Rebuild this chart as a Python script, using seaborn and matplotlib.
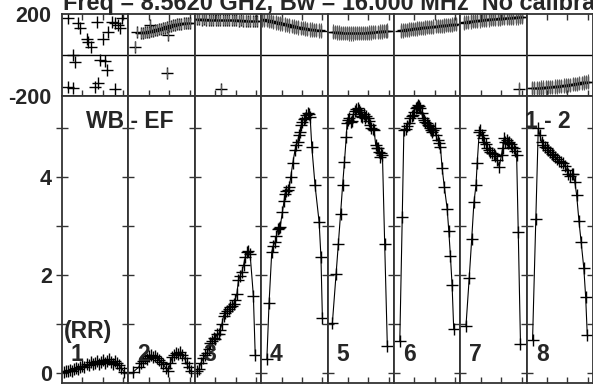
import matplotlib
matplotlib.use('Agg')
import matplotlib.pyplot as plt
import numpy as np
import seaborn as sns

# baselines (una columna por baseline)
bases = ['1', '2', '3', '4', '5', '6', '7', '8']

# amplitud (panel inferior), tiempo dentro de cada baseline
amp_t = [
    [0.10, 0.20, 0.30, 0.40, 0.50, 0.60, 0.70, 0.80, 0.90, 1.00, 1.10, 1.20, 1.30, 1.40, 1.50,
     1.60, 1.70, 1.80, 1.90, 2.00, 2.10, 2.20, 2.30, 2.40, 2.50, 2.60, 2.70, 2.80, 2.90, 3.05],
    [0.25, 0.50, 0.60, 0.70, 0.80, 0.90, 1.00, 1.10, 1.20, 1.30, 1.40, 1.50, 1.60, 1.70, 1.85,
     1.95, 2.05, 2.15, 2.25, 2.35, 2.45, 2.55, 2.65, 2.75, 2.85, 2.95, 3.05],
    [0.10, 0.19, 0.30, 0.42, 0.52, 0.60, 0.68, 0.76, 0.84, 0.92, 1.00, 1.09, 1.17, 1.25, 1.33,
     1.41, 1.49, 1.57, 1.66, 1.74, 1.82, 1.90, 1.98, 2.06, 2.14, 2.22, 2.30, 2.39, 2.47, 2.55,
     2.63, 2.71, 2.87, 2.96],
    [0.28, 0.39, 0.52, 0.60, 0.68, 0.75, 0.82, 0.88, 0.93, 1.04, 1.12, 1.17, 1.24, 1.30, 1.38,
     1.45, 1.55, 1.66, 1.73, 1.79, 1.85, 1.91, 1.97, 2.02, 2.08, 2.15, 2.22, 2.28, 2.34, 2.40,
     2.48, 2.64, 2.84, 2.93, 3.00],
    [0.24, 0.42, 0.53, 0.64, 0.74, 0.83, 0.92, 0.96, 1.01, 1.07, 1.14, 1.20, 1.27, 1.34, 1.40,
     1.47, 1.52, 1.58, 1.64, 1.71, 1.77, 1.83, 1.90, 1.96, 2.02, 2.09, 2.15, 2.22, 2.28, 2.36,
     2.42, 2.48, 2.53, 2.58, 2.64, 2.69, 2.80, 2.93],
    [0.29, 0.41, 0.49, 0.57, 0.65, 0.73, 0.81, 0.88, 0.94, 1.00, 1.06, 1.12, 1.17, 1.23, 1.30,
     1.36, 1.42, 1.47, 1.53, 1.60, 1.66, 1.71, 1.78, 1.84, 1.87, 1.93, 1.99, 2.06, 2.14, 2.22,
     2.28, 2.36, 2.47, 2.61, 2.69, 2.77, 2.85, 2.93],
    [0.28, 0.44, 0.56, 0.67, 0.77, 0.83, 0.93, 0.98, 1.05, 1.12, 1.18, 1.25, 1.32, 1.42, 1.48,
     1.55, 1.65, 1.72, 1.80, 1.91, 2.02, 2.08, 2.14, 2.20, 2.27, 2.34, 2.40, 2.47, 2.55, 2.63,
     2.70, 2.76, 2.84, 2.95],
    [0.29, 0.45, 0.57, 0.65, 0.73, 0.82, 0.90, 0.98, 1.06, 1.14, 1.22, 1.30, 1.38, 1.50, 1.60,
     1.70, 1.79, 1.88, 1.96, 2.04, 2.12, 2.20, 2.28, 2.36, 2.45, 2.56, 2.67, 2.80, 2.89, 2.97],
]
amp_v = [
    [0.03, 0.04, 0.05, 0.06, 0.05, 0.08, 0.10, 0.09, 0.13, 0.15, 0.12, 0.18, 0.16, 0.22, 0.19,
     0.20, 0.24, 0.18, 0.22, 0.27, 0.20, 0.24, 0.28, 0.22, 0.19, 0.25, 0.20, 0.16, 0.10, 0.03],
    [0.03, 0.12, 0.20, 0.24, 0.30, 0.28, 0.35, 0.37, 0.33, 0.36, 0.31, 0.27, 0.22, 0.18, 0.10,
     0.04, 0.20, 0.33, 0.38, 0.42, 0.39, 0.44, 0.38, 0.30, 0.20, 0.12, 0.04],
    [0.04, 0.08, 0.21, 0.30, 0.38, 0.42, 0.50, 0.62, 0.66, 0.72, 0.70, 0.79, 0.80, 0.89, 1.00,
     1.17, 1.22, 1.27, 1.30, 1.34, 1.36, 1.41, 1.50, 1.61, 1.89, 1.98, 2.06, 2.20, 2.36, 2.47,
     2.50, 2.43, 1.58, 0.38],
    [0.28, 1.44, 2.47, 2.60, 2.67, 2.80, 2.94, 2.96, 2.98, 3.28, 3.50, 3.66, 3.72, 3.73, 3.80,
     4.00, 4.28, 4.55, 4.65, 4.72, 4.85, 4.92, 5.05, 5.13, 5.18, 5.21, 5.26, 5.30, 5.28, 5.23,
     4.62, 3.83, 3.08, 2.36, 1.13],
    [1.03, 2.02, 2.63, 3.25, 3.83, 4.31, 4.82, 5.10, 5.16, 5.20, 5.13, 5.15, 5.28, 5.35, 5.38,
     5.40, 5.36, 5.33, 5.25, 5.23, 5.28, 5.20, 5.24, 5.20, 5.15, 5.05, 5.00, 4.98, 4.96, 4.65,
     4.60, 4.58, 4.50, 4.41, 4.48, 4.45, 2.64, 0.55],
    [0.66, 3.18, 4.96, 4.98, 5.03, 5.10, 5.20, 5.25, 5.27, 5.32, 5.40, 5.43, 5.46, 5.45, 5.40,
     5.30, 5.20, 5.16, 5.12, 5.09, 5.05, 5.03, 5.00, 4.95, 4.92, 4.96, 4.99, 4.85, 4.75, 4.70,
     4.62, 4.19, 3.80, 3.35, 2.89, 2.38, 1.80, 0.90],
    [0.96, 1.95, 2.73, 3.48, 3.83, 4.28, 4.92, 4.95, 4.85, 4.79, 4.72, 4.68, 4.60, 4.55, 4.50,
     4.48, 4.46, 4.42, 4.35, 4.21, 4.45, 4.60, 4.79, 4.72, 4.75, 4.70, 4.72, 4.68, 4.62, 4.58,
     4.52, 4.45, 2.88, 0.59],
    [0.67, 3.14, 4.99, 4.85, 4.72, 4.66, 4.62, 4.58, 4.55, 4.50, 4.46, 4.44, 4.40, 4.36, 4.33,
     4.30, 4.28, 4.22, 4.15, 4.07, 4.02, 4.05, 4.07, 3.90, 3.63, 3.11, 2.67, 2.14, 1.56, 0.77],
]

# fase (panel superior), grados
fase_t = [
    [0.28, 0.80, 0.88, 1.70, 1.21, 1.29, 1.42, 2.02, 2.26, 2.43, 2.59, 2.75, 2.92, 2.84, 0.55,
     0.64, 1.86, 2.10, 2.19, 0.28, 0.55, 1.61, 1.78, 2.59],
    [0.32, 0.40, 1.05, 1.95, 1.87, 0.60, 0.70, 0.80, 0.90, 1.00, 1.10, 1.20, 1.30, 1.40, 1.50,
     1.60, 1.70, 1.80, 1.90, 2.00, 2.10, 2.20, 2.30, 2.40, 2.50, 2.60, 2.70, 2.80, 2.90, 3.00],
    [0.12, 0.23, 0.35, 0.46, 0.57, 0.69, 0.80, 0.91, 1.02, 1.14, 1.25, 1.36, 1.48, 1.59, 1.70,
     1.82, 1.93, 2.04, 2.16, 2.27, 2.38, 2.50, 2.61, 2.72, 2.83, 2.95, 3.06, 1.28],
    [0.05, 0.16, 0.27, 0.38, 0.49, 0.60, 0.71, 0.82, 0.93, 1.04, 1.15, 1.26, 1.37, 1.49, 1.60,
     1.71, 1.82, 1.93, 2.04, 2.15, 2.26, 2.37, 2.48, 2.60, 2.71, 2.82, 2.94],
    [0.25, 0.35, 0.45, 0.55, 0.65, 0.75, 0.85, 0.95, 1.05, 1.15, 1.25, 1.35, 1.45, 1.55, 1.65,
     1.75, 1.85, 1.95, 2.05, 2.15, 2.25, 2.35, 2.45, 2.55, 2.65, 2.75, 2.85, 2.93],
    [0.34, 0.44, 0.54, 0.64, 0.74, 0.84, 0.94, 1.04, 1.14, 1.24, 1.34, 1.44, 1.54, 1.64, 1.74,
     1.84, 1.94, 2.04, 2.14, 2.24, 2.34, 2.44, 2.54, 2.64, 2.74, 2.84, 2.94, 3.03],
    [0.18, 0.29, 0.40, 0.51, 0.62, 0.73, 0.84, 0.95, 1.06, 1.17, 1.28, 1.39, 1.50, 1.61, 1.72,
     1.83, 1.94, 2.05, 2.16, 2.27, 2.38, 2.49, 2.60, 2.71, 2.82, 2.93, 3.03, 2.87],
    [0.27, 0.38, 0.49, 0.60, 0.71, 0.82, 0.93, 1.04, 1.15, 1.26, 1.37, 1.48, 1.59, 1.70, 1.81,
     1.92, 2.03, 2.14, 2.25, 2.36, 2.47, 2.58, 2.69, 2.80, 2.91, 3.02],
]
fase_v = [
    [179, 155, 130, 163, 77, 65, 41, 77, 114, 163, 155, 146, 179, 130, 0,
     -33, -24, -28, -73, -158, -163, -158, -135, -167],
    [41, 114, 146, 98, -86, 108, 106, 110, 112, 114, 116, 118, 121, 124, 126,
     128, 131, 134, 137, 140, 143, 146, 148, 150, 152, 153, 154, 155, 156, 157],
    [175, 174, 173, 174, 173, 172, 173, 172, 171, 172, 171, 170, 171, 170, 170,
     169, 170, 169, 168, 169, 168, 168, 167, 168, 167, 167, 166, -167],
    [174, 172, 170, 167, 165, 162, 159, 157, 154, 151, 149, 146, 144, 141, 139,
     137, 135, 133, 131, 129, 127, 125, 124, 122, 121, 120, 119],
    [114, 112, 110, 109, 108, 107, 106, 106, 105, 105, 105, 106, 106, 106, 107,
     107, 108, 108, 109, 110, 111, 112, 113, 114, 115, 116, 117, 119],
    [119, 120, 122, 123, 125, 126, 127, 128, 130, 131, 132, 133, 135, 136, 137,
     138, 139, 140, 141, 142, 143, 144, 145, 146, 147, 148, 150, 151],
    [158, 160, 162, 164, 165, 167, 168, 169, 170, 172, 173, 174, 175, 176, 177,
     177, 178, 179, 180, 180, 181, 182, 182, 183, 183, 184, 184, -167],
    [-163, -162, -161, -160, -159, -159, -158, -157, -156, -155, -154, -153, -152, -150, -149,
     -148, -146, -145, -143, -141, -140, -138, -136, -134, -132, -130],
]
# error tipico de fase por baseline (barras verticales), grados
fase_err = [0, 25, 25, 35, 35, 35, 35, 35]

titulo = 'Freq = 8.5620 GHz, Bw = 16.000 MHz  No calibration'

W, H = 593, 386
def fx(px):
    return px / W
def fy(py):
    return 1 - py / H

sns.set_style('ticks')
plt.rcParams['font.family'] = ['Liberation Sans', 'DejaVu Sans']
plt.rcParams['font.weight'] = 'bold'

fig = plt.figure(figsize=(W / 100, H / 100), dpi=100)
gs = fig.add_gridspec(2, 8, left=fx(62), right=1.0, top=fy(14), bottom=fy(383),
                      height_ratios=[82, 287], wspace=0, hspace=0)

borde = '#333333'
for k in range(8):
    ax_f = fig.add_subplot(gs[0, k])
    ax_a = fig.add_subplot(gs[1, k])

    # fase: marcadores con barras de error
    if fase_err[k] > 0:
        v = np.array(fase_v[k])
        ax_f.vlines(fase_t[k], v - fase_err[k], v + fase_err[k], color='0.35', linewidth=0.8)
    sns.scatterplot(x=fase_t[k], y=fase_v[k], marker='+', s=70, color='black',
                    linewidth=1.0, ax=ax_f, legend=False)
    ax_f.axhline(0, color='black', linewidth=1.0)
    ax_f.set_xlim(0, 3.25)
    ax_f.set_ylim(-200, 200)
    ax_f.set_xticks([1, 2, 3])
    ax_f.tick_params(axis='x', direction='in', top=True, bottom=True, length=4,
                     width=1, labelbottom=False, color=borde)
    ax_f.set_yticks([-200, 0, 200])
    if k == 0:
        ax_f.set_yticklabels(['-200', '', '200'], fontsize=15.5, fontweight='bold')
        ax_f.tick_params(axis='y', length=0, pad=8)
    else:
        ax_f.tick_params(axis='y', length=0, labelleft=False)

    # amplitud: linea + marcadores
    sns.lineplot(x=amp_t[k], y=amp_v[k], marker='+', markersize=8.6,
                 markeredgecolor='black', markeredgewidth=1.0, color='black',
                 linewidth=0.8, estimator=None, sort=False, ax=ax_a)
    ax_a.set_xlim(0, 3.25)
    ax_a.set_ylim(-0.2, 5.65)
    ax_a.set_xticks([1, 2, 3])
    ax_a.tick_params(axis='x', direction='in', bottom=True, length=4.3, width=1,
                     labelbottom=False, color=borde)
    ax_a.set_yticks([0, 1, 2, 3, 4, 5])
    ax_a.tick_params(axis='y', direction='in', left=True, right=True, length=4.3,
                     width=1, color=borde)
    if k == 0:
        ax_a.set_yticklabels(['0', '', '2', '', '4', ''], fontsize=15.5, fontweight='bold')
        ax_a.tick_params(axis='y', which='major', direction='inout', left=True,
                         right=False, length=8.6, pad=3)
        ax_a.tick_params(axis='y', right=True)
    else:
        ax_a.tick_params(axis='y', labelleft=False)

    for ax in (ax_f, ax_a):
        ax.set_xlabel('')
        ax.set_ylabel('')
        for sp in ax.spines.values():
            sp.set_visible(True)
            sp.set_color(borde)
            sp.set_linewidth(1.3)

    # numero de baseline
    fig.text(fx(62 + 66.5 * k + 8.5), fy(361), bases[k], fontsize=16.5,
             fontweight='bold', va='baseline', ha='left')

fig.text(fx(63), fy(10), titulo, fontsize=16.9, fontweight='bold',
         va='baseline', ha='left')
fig.text(fx(86), fy(127.5), 'WB - EF', fontsize=16.5, fontweight='bold',
         va='baseline', ha='left')
fig.text(fx(525), fy(128.3), '1 - 2', fontsize=16.5, fontweight='bold',
         va='baseline', ha='left')
fig.text(fx(64), fy(338), '(RR)', fontsize=16.5, fontweight='bold',
         va='baseline', ha='left')

fig.savefig('out.png', dpi=100)
